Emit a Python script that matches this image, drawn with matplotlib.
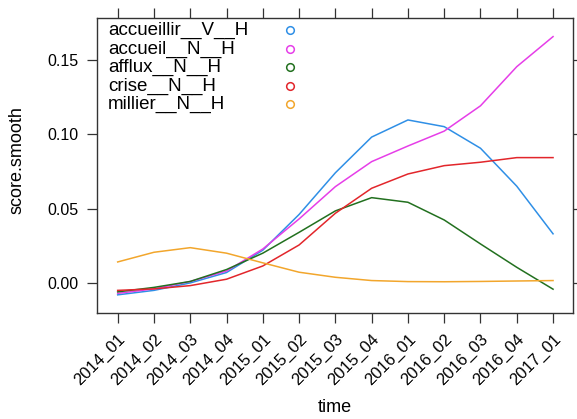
import matplotlib
matplotlib.use("Agg")
import matplotlib.pyplot as plt

plt.rcParams['font.family'] = ['Liberation Sans', 'DejaVu Sans']

times = ["2014_01", "2014_02", "2014_03", "2014_04", "2015_01", "2015_02", "2015_03",
         "2015_04", "2016_01", "2016_02", "2016_03", "2016_04", "2017_01"]
series_names = ["accueillir__V__H", "accueil__N__H", "afflux__N__H", "crise__N__H", "millier__N__H"]
accueillir = [-0.008, -0.005, 0.000, 0.007, 0.022, 0.046, 0.074, 0.098, 0.1095, 0.105, 0.0905, 0.065, 0.033]
accueil = [-0.007, -0.004, 0.001, 0.008, 0.0228, 0.043, 0.0647, 0.0815, 0.092, 0.102, 0.119, 0.1453, 0.1655]
afflux = [-0.006, -0.003, 0.001, 0.009, 0.020, 0.034, 0.0484, 0.0573, 0.0542, 0.0423, 0.0262, 0.0105, -0.0042]
crise = [-0.005, -0.004, -0.0018, 0.0025, 0.0114, 0.0255, 0.0468, 0.0636, 0.0732, 0.0788, 0.0811, 0.0842, 0.0842]
millier = [0.0141, 0.0206, 0.0237, 0.020, 0.0135, 0.0072, 0.0038, 0.0016, 0.0009, 0.0008, 0.001, 0.0013, 0.0016]
colors = ['#2f8fe6', '#e63ee8', '#22701f', '#e2262b', '#f2a62c']

W, H = 577, 419
fig = plt.figure(figsize=(W / 100, H / 100), dpi=100)
ax = fig.add_axes([97 / W, 1 - 313 / H, (573 - 97) / W, (313 - 18) / H])

x = list(range(len(times)))
for vals, c in zip([accueillir, accueil, afflux, crise, millier], colors):
    ax.plot(x, vals, color=c, lw=1.1)

ax.set_xlim(-0.57, 12.55)
ax.set_ylim(-0.0202, 0.178)
ax.set_xticks(x)
ax.set_xticklabels(times, rotation=45, ha='right', rotation_mode='anchor', fontsize=12)
ax.set_yticks([0.0, 0.05, 0.10, 0.15])
ax.set_yticklabels(["0.00", "0.05", "0.10", "0.15"], fontsize=11.5)
ax.tick_params(axis='both', direction='out', length=7.3, width=0.9, color='#333333',
               top=True, right=True, labeltop=False, labelright=False)
ax.tick_params(axis='y', pad=6)
ax.tick_params(axis='x', pad=6)
for s in ax.spines.values():
    s.set_linewidth(1.0)
    s.set_color('#333333')

ax.set_xlabel("time", fontsize=13, va='center')
ax.xaxis.set_label_coords(0.5, (313 - 408) / 295)
ax.set_ylabel("score.smooth", fontsize=13, va='center')
ax.yaxis.set_label_coords((17.5 - 97) / 476, (313 - 160) / 295)

# key drawn as text + open circles in the top-left of the panel
row_y = [30, 49, 67.5, 86, 104.5]
for name, c, yy in zip(series_names, colors, row_y):
    fig.text(108 / W, 1 - yy / H, name, fontsize=13.5, va='center', ha='left')
    fig.add_artist(plt.Line2D([290 / W], [1 - yy / H], transform=fig.transFigure, ls='none',
                              marker='o', markersize=5.5, markerfacecolor='none',
                              markeredgecolor=c, markeredgewidth=1.1))

fig.savefig("out.png", dpi=100)
